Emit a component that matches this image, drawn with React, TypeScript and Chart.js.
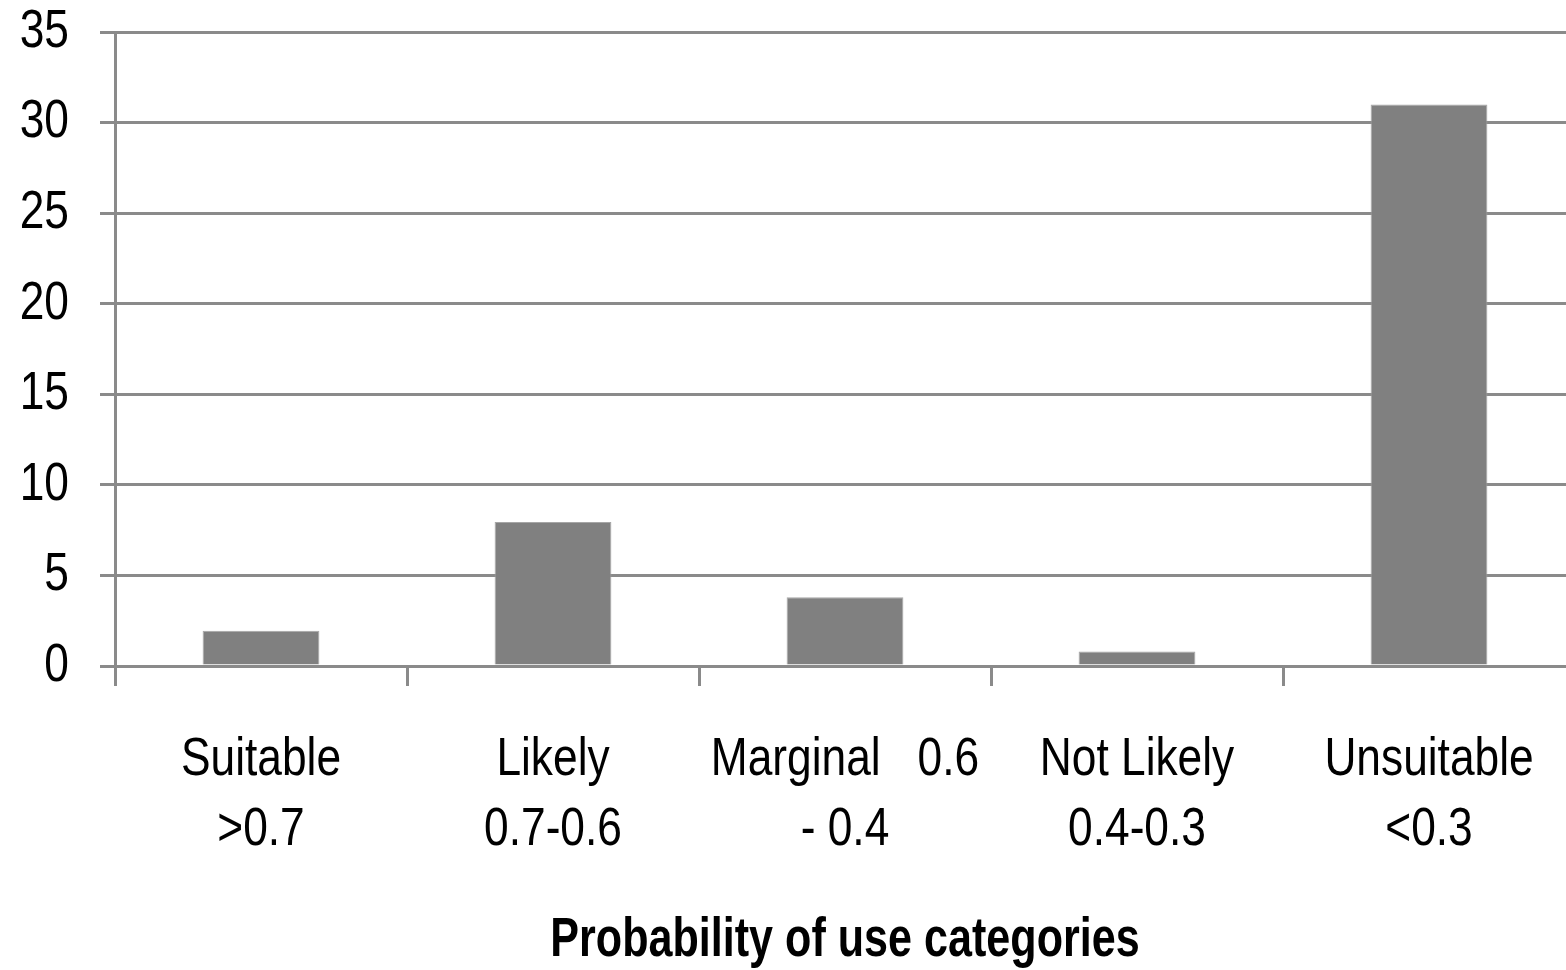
import React, { useEffect, useRef } from "react";
import { Chart, registerables } from "chart.js";

Chart.register(...registerables);

const categories: string[][] = [
  ["Suitable", ">0.7"],
  ["Likely", "0.7-0.6"],
  ["Marginal   0.6", "- 0.4"],
  ["Not Likely", "0.4-0.3"],
  ["Unsuitable", "<0.3"],
];
const values: number[] = [1.95, 7.95, 3.8, 0.8, 31];
const yMin = 0;
const yMax = 35;
const yStep = 5;
const xTitle = "Probability of use categories";

const FONT = "'Liberation Sans', Arial, sans-serif";
const GRID = "#8a8a8a";

// Renders text slightly condensed horizontally, like the narrow face of the original.
const condensePlugin = {
  id: "condense",
  beforeDraw(chart: any) {
    const ctx = chart.ctx as any;
    if (ctx.__condensed) return;
    const orig = ctx.fillText.bind(ctx);
    ctx.fillText = (text: string, x: number, y: number, maxWidth?: number) => {
      const f = /bold/.test(ctx.font) ? 0.77 : 0.82;
      ctx.save();
      ctx.translate(x, y);
      ctx.scale(f, 1);
      if (maxWidth !== undefined) orig(text, 0, 0, maxWidth / f);
      else orig(text, 0, 0);
      ctx.restore();
    };
    ctx.__condensed = true;
  },
};

export default function App() {
  const ref = useRef<HTMLCanvasElement | null>(null);
  useEffect(() => {
    if (!ref.current) return;
    const chart = new Chart(ref.current, {
      type: "bar",
      data: {
        labels: categories,
        datasets: [
          {
            data: values,
            backgroundColor: "#808080",
            borderColor: "#a6a6a6",
            borderWidth: 1,
            barPercentage: 0.4,
            categoryPercentage: 1,
          },
        ],
      },
      plugins: [condensePlugin],
      options: {
        responsive: false,
        animation: false,
        devicePixelRatio: 1,
        layout: { padding: { left: 15, right: 5, top: 0, bottom: 0 } },
        plugins: {
          legend: { display: false },
          tooltip: { enabled: false },
          title: { display: false },
        },
        scales: {
          x: {
            offset: true,
            afterFit: (s: any) => {
              s.height = 304;
              s.paddingLeft = 0;
              s.paddingRight = 0;
            },
            grid: {
              offset: true,
              drawOnChartArea: false,
              drawTicks: true,
              tickLength: 20,
              color: GRID,
              lineWidth: 3,
            },
            border: { display: true, color: GRID, width: 3 },
            ticks: {
              color: "#000",
              font: { family: FONT, size: 54, lineHeight: 1.28 },
              padding: 40,
              maxRotation: 0,
              autoSkip: false,
            },
            title: {
              display: true,
              text: xTitle,
              color: "#000",
              font: { family: FONT, size: 56, weight: "bold", lineHeight: 1.05 },
              padding: { top: 0, bottom: 0 },
            },
          },
          y: {
            min: yMin,
            max: yMax,
            afterFit: (s: any) => {
              s.width = 100;
              s.paddingTop = 32;
              s.paddingBottom = 0;
            },
            grid: {
              color: GRID,
              lineWidth: 3,
              tickLength: 15,
            },
            border: { display: true, color: GRID, width: 3 },
            ticks: {
              stepSize: yStep,
              color: "#000",
              font: { family: FONT, size: 54 },
              padding: 31,
            },
          },
        },
      },
    });
    return () => chart.destroy();
  }, []);
  return (
    <div
      style={{
        position: "fixed",
        left: 0,
        top: 0,
        width: 1566,
        height: 970,
        overflow: "hidden",
        background: "#fff",
      }}
    >
      <canvas ref={ref} width={1580} height={970} style={{ width: 1580, height: 970, display: "block" }} />
    </div>
  );
}
